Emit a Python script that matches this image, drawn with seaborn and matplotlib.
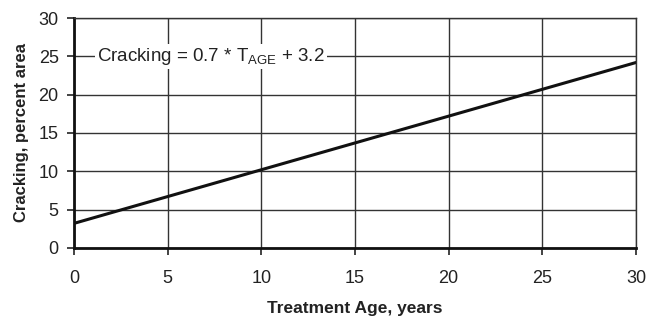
import numpy as np
import pandas as pd
import matplotlib
matplotlib.use('Agg')
import matplotlib.pyplot as plt
import seaborn as sns

# Data -----------------------------------------------------------------------
treatment_age = [0, 30]
cracking = [3.2, 24.2]
x_ticks = [0, 5, 10, 15, 20, 25, 30]
y_ticks = [0, 5, 10, 15, 20, 25, 30]

df = pd.DataFrame({'age': treatment_age, 'cracking': cracking})

sns.set_style('white')
plt.rcParams['font.family'] = ['Liberation Sans', 'DejaVu Sans']

fig = plt.figure(figsize=(6.49, 3.17), dpi=100)
ax = fig.add_axes([0.114, 0.218, 0.866, 0.725])

sns.lineplot(data=df, x='age', y='cracking', color='#111111', linewidth=2.2, ax=ax)

ax.set_xlim(0, 30)
ax.set_ylim(0, 30)
ax.set_xticks(x_ticks)
ax.set_yticks(y_ticks)
ax.grid(True, color='#333333', linewidth=1.0)
ax.set_axisbelow(True)

for side in ['top', 'right']:
    ax.spines[side].set_color('#333333')
    ax.spines[side].set_linewidth(1.0)
for side in ['left', 'bottom']:
    ax.spines[side].set_color('#111111')
    ax.spines[side].set_linewidth(2.0)

ax.tick_params(axis='both', direction='out', length=5, width=1.2, color='#222222',
               labelsize=13, labelcolor='#222222', pad=6, left=True, bottom=True)
ax.tick_params(axis='x', pad=11)

ax.set_xlabel('Treatment Age, years', fontsize=12.5, fontweight='bold', labelpad=10,
              color='#222222')
ax.set_ylabel('Cracking, percent area', fontsize=12, fontweight='bold', labelpad=7,
              color='#222222')

ax.text(1.25, 25, r'Cracking = 0.7 * T$_{\mathregular{AGE}}$ + 3.2', fontsize=13.5,
        color='#222222', va='center', ha='left',
        bbox=dict(facecolor='white', edgecolor='none', pad=1.5))

fig.savefig('out.png', dpi=100)
